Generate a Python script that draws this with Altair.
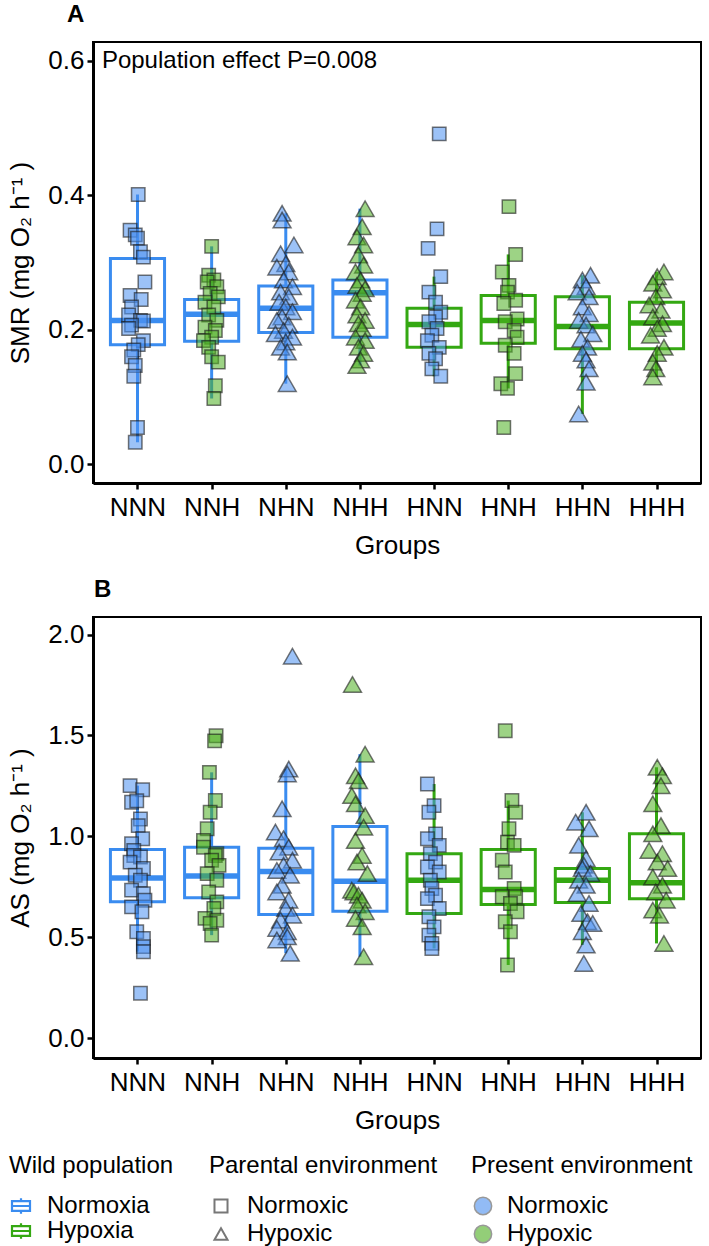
import altair as alt
import pandas as pd

FONT = "Liberation Sans"

groups = ["NNN", "NNH", "NHN", "NHH", "HNN", "HNH", "HHN", "HHH"]

# ---------------- Panel A: standard metabolic rate (mg O2 h-1) ----------------
# one value per fish, plus its horizontal jitter (fraction of the group spacing)
smr_nnn = [0.401, 0.348, 0.341, 0.336, 0.316, 0.308, 0.271, 0.251, 0.245, 0.234, 0.222, 0.214,
           0.213, 0.207, 0.202, 0.184, 0.178, 0.170, 0.160, 0.147, 0.131, 0.055, 0.033]
smr_nnn_jit = [0.01, -0.10, -0.03, 0.00, 0.04, 0.08, 0.10, -0.10, 0.05, -0.08, -0.12, 0.04,
               0.08, -0.08, -0.12, 0.08, 0.01, -0.05, -0.08, -0.03, -0.05, 0.00, -0.03]
smr_nnh = [0.324, 0.281, 0.274, 0.271, 0.264, 0.254, 0.249, 0.241, 0.234, 0.222, 0.214, 0.204,
           0.199, 0.189, 0.184, 0.174, 0.160, 0.152, 0.117, 0.098]
smr_nnh_jit = [0.00, -0.04, 0.03, -0.06, 0.07, -0.02, 0.09, -0.09, 0.03, -0.04, 0.07, -0.09,
               0.05, 0.00, -0.11, -0.04, 0.00, 0.09, 0.05, 0.03]
smr_nhn = [0.373, 0.363, 0.326, 0.313, 0.298, 0.293, 0.286, 0.274, 0.264, 0.256, 0.249, 0.241,
           0.234, 0.227, 0.219, 0.214, 0.207, 0.199, 0.194, 0.189, 0.182, 0.174, 0.167, 0.120]
smr_nhn_jit = [-0.05, -0.05, 0.11, -0.07, 0.00, -0.12, 0.04, -0.03, 0.09, -0.07, 0.04, -0.09,
               0.00, 0.09, -0.05, -0.12, 0.04, -0.03, -0.14, 0.09, 0.00, -0.07, 0.02, 0.02]
smr_nhh = [0.380, 0.353, 0.338, 0.326, 0.311, 0.296, 0.286, 0.274, 0.266, 0.261, 0.254, 0.244,
           0.234, 0.222, 0.214, 0.209, 0.202, 0.189, 0.184, 0.174, 0.165, 0.155, 0.147]
smr_nhh_jit = [0.07, 0.03, -0.04, 0.05, -0.02, 0.05, -0.06, 0.01, -0.04, 0.07, 0.03, -0.06,
               0.01, -0.04, 0.07, -0.02, 0.03, -0.06, 0.07, -0.02, 0.05, 0.01, -0.04]
smr_hnn = [0.491, 0.350, 0.321, 0.279, 0.256, 0.241, 0.226, 0.219, 0.212, 0.202, 0.192, 0.184,
           0.174, 0.165, 0.157, 0.142, 0.131]
smr_hnn_jit = [0.07, 0.04, -0.08, 0.09, -0.07, 0.02, 0.09, 0.02, -0.07, 0.04, -0.03, -0.09,
               0.07, -0.07, 0.02, -0.03, 0.09]
smr_hnh = [0.383, 0.312, 0.286, 0.266, 0.256, 0.244, 0.239, 0.216, 0.212, 0.199, 0.189, 0.177,
           0.165, 0.135, 0.120, 0.113, 0.055]
smr_hnh_jit = [0.01, 0.10, -0.08, 0.01, -0.01, 0.10, -0.06, 0.12, -0.04, 0.08, 0.12, -0.04,
               0.08, 0.10, -0.10, -0.01, -0.06]
smr_hhn = [0.281, 0.274, 0.264, 0.256, 0.249, 0.234, 0.224, 0.214, 0.207, 0.194, 0.186, 0.174,
           0.165, 0.155, 0.142, 0.122, 0.075]
smr_hhn_jit = [0.11, 0.00, 0.05, -0.07, 0.09, 0.00, 0.09, -0.05, 0.05, 0.14, -0.02, 0.07,
               0.00, 0.05, 0.09, 0.05, -0.05]
smr_hhh = [0.286, 0.279, 0.269, 0.259, 0.249, 0.237, 0.229, 0.219, 0.209, 0.202, 0.192, 0.174,
           0.165, 0.152, 0.142, 0.130]
smr_hhh_jit = [0.10, 0.01, -0.05, 0.08, -0.01, -0.10, 0.06, -0.05, 0.08, 0.01, -0.08, 0.10,
               0.01, -0.05, -0.01, -0.05]

# box statistics per group (NNN ... HHH)
smr_q1 = [0.178, 0.183, 0.196, 0.189, 0.174, 0.180, 0.172, 0.172]
smr_med = [0.214, 0.223, 0.232, 0.255, 0.208, 0.214, 0.205, 0.210]
smr_q3 = [0.306, 0.245, 0.265, 0.274, 0.232, 0.251, 0.249, 0.241]
smr_wlo = [0.033, 0.098, 0.120, 0.147, 0.131, 0.113, 0.075, 0.130]
smr_whi = [0.401, 0.324, 0.373, 0.380, 0.279, 0.312, 0.281, 0.286]

# ---------------- Panel B: aerobic scope (mg O2 h-1) ----------------
as_nnn = [1.251, 1.231, 1.169, 1.176, 1.086, 1.053, 0.988, 0.963, 0.930, 0.905, 0.897, 0.872,
          0.840, 0.807, 0.782, 0.733, 0.716, 0.683, 0.650, 0.626, 0.527, 0.494, 0.453, 0.428, 0.222]
as_nnn_jit = [-0.10, 0.07, -0.08, -0.01, 0.04, 0.01, 0.07, -0.08, -0.05, -0.05, 0.04, -0.10,
              0.08, -0.03, 0.04, -0.08, 0.08, 0.10, -0.08, 0.06, -0.01, 0.08, 0.08, 0.08, 0.04]
as_nnh = [1.498, 1.473, 1.317, 1.177, 1.119, 1.037, 0.979, 0.946, 0.914, 0.905, 0.881, 0.856,
          0.815, 0.782, 0.724, 0.675, 0.642, 0.593, 0.584, 0.568, 0.510]
as_nnh_jit = [0.06, 0.04, -0.03, 0.05, -0.02, -0.06, -0.11, -0.11, 0.07, 0.05, 0.00, 0.10,
              -0.06, 0.07, -0.04, 0.07, 0.03, -0.09, 0.07, -0.02, 0.00]
as_nhn = [1.893, 1.333, 1.309, 1.136, 1.021, 0.988, 0.946, 0.922, 0.881, 0.856, 0.831, 0.807,
          0.757, 0.724, 0.683, 0.642, 0.609, 0.584, 0.543, 0.527, 0.502, 0.486, 0.420]
as_nhn_jit = [0.09, 0.04, 0.02, -0.05, -0.14, -0.03, 0.04, -0.09, 0.09, -0.03, -0.12, 0.06,
              -0.05, -0.12, 0.04, 0.00, 0.09, -0.07, -0.12, 0.02, 0.02, -0.12, 0.06]
as_nhh = [1.753, 1.407, 1.300, 1.275, 1.202, 1.161, 1.103, 1.045, 0.979, 0.905, 0.872, 0.815,
          0.733, 0.724, 0.708, 0.683, 0.659, 0.626, 0.593, 0.551, 0.403]
as_nhh_jit = [-0.10, 0.07, -0.06, -0.02, -0.11, -0.06, 0.07, 0.05, -0.06, 0.03, -0.04, 0.10,
              -0.11, -0.08, -0.02, 0.03, -0.04, 0.07, -0.06, 0.03, 0.05]
as_hnn = [1.259, 1.152, 1.119, 1.012, 0.988, 0.955, 0.914, 0.872, 0.848, 0.823, 0.782, 0.741,
          0.708, 0.691, 0.642, 0.601, 0.551, 0.510, 0.469, 0.444]
as_hnn_jit = [-0.09, 0.00, -0.07, 0.02, -0.09, 0.07, -0.05, 0.02, -0.09, 0.07, -0.05, -0.03,
              0.02, -0.09, 0.07, -0.07, 0.00, -0.07, -0.03, -0.03]
as_hnh = [1.523, 1.177, 1.119, 1.037, 0.971, 0.955, 0.881, 0.823, 0.741, 0.700, 0.700, 0.667,
          0.626, 0.576, 0.527, 0.362]
as_hnh_jit = [-0.04, 0.05, 0.10, 0.01, -0.01, 0.08, -0.08, -0.04, 0.08, -0.08, 0.10, 0.03,
              0.12, -0.04, 0.03, -0.01]
as_hhn = [1.119, 1.070, 1.037, 0.955, 0.889, 0.856, 0.840, 0.815, 0.782, 0.757, 0.716, 0.667,
          0.617, 0.576, 0.568, 0.527, 0.461, 0.370]
as_hhn_jit = [0.05, -0.09, 0.09, -0.05, 0.05, 0.02, 0.00, 0.11, -0.05, 0.05, -0.07, 0.09,
              -0.02, 0.07, 0.14, 0.00, 0.05, 0.02]
as_hhh = [1.342, 1.300, 1.251, 1.161, 1.053, 1.012, 0.930, 0.914, 0.872, 0.840, 0.798, 0.757,
          0.724, 0.683, 0.634, 0.609, 0.469]
as_hhh_jit = [0.01, 0.08, 0.06, -0.05, 0.06, -0.05, -0.10, 0.08, 0.01, 0.15, -0.05, 0.08,
              -0.01, 0.13, -0.05, 0.04, 0.10]

as_q1 = [0.675, 0.695, 0.612, 0.629, 0.617, 0.662, 0.672, 0.691]
as_med = [0.793, 0.803, 0.826, 0.777, 0.782, 0.736, 0.782, 0.770]
as_q3 = [0.935, 0.946, 0.941, 1.049, 0.914, 0.935, 0.840, 1.012]
as_wlo = [0.428, 0.510, 0.420, 0.403, 0.444, 0.362, 0.461, 0.469]
as_whi = [1.251, 1.317, 1.333, 1.407, 1.259, 1.177, 1.119, 1.342]

note_text = "Population effect P=0.008"
note_x, note_y = 0.52, 0.60

# ---------------- styling ----------------
BOX_BLUE, BOX_GREEN = "#3a8cf0", "#34a812"
PT_BLUE, PT_GREEN = "#4a8ff0", "#4caf20"
BOX_HALF = 0.365


def condition(letter, yes, no):
    return yes if letter == "N" else no


def points_frame(values, jitters):
    rows = []
    for i, g in enumerate(groups):
        for v, j in zip(values[i], jitters[i]):
            rows.append({
                "group": g, "idx": i + 1, "jit": j, "value": v,
                "wild": condition(g[0], "Normoxia", "Hypoxia"),
                # parental levels kept lower-case so their legend stays separate
                "parental": condition(g[1], "normoxic", "hypoxic"),
                "present": condition(g[2], "Normoxic", "Hypoxic"),
                "glyph": condition(g[1], "sq", "tri"),
            })
    return pd.DataFrame(rows)


def box_frame(q1, med, q3, wlo, whi):
    return pd.DataFrame({
        "group": groups, "idx": list(range(1, len(groups) + 1)),
        "wild": [condition(g[0], "Normoxia", "Hypoxia") for g in groups],
        "q1": q1, "med": med, "q3": q3, "wlo": wlo, "whi": whi,
    })


smr_points = points_frame(
    [smr_nnn, smr_nnh, smr_nhn, smr_nhh, smr_hnn, smr_hnh, smr_hhn, smr_hhh],
    [smr_nnn_jit, smr_nnh_jit, smr_nhn_jit, smr_nhh_jit,
     smr_hnn_jit, smr_hnh_jit, smr_hhn_jit, smr_hhh_jit])
as_points = points_frame(
    [as_nnn, as_nnh, as_nhn, as_nhh, as_hnn, as_hnh, as_hhn, as_hhh],
    [as_nnn_jit, as_nnh_jit, as_nhn_jit, as_nhh_jit,
     as_hnn_jit, as_hnh_jit, as_hhn_jit, as_hhh_jit])
smr_box = box_frame(smr_q1, smr_med, smr_q3, smr_wlo, smr_whi)
as_box = box_frame(as_q1, as_med, as_q3, as_wlo, as_whi)

x_scale = alt.Scale(domain=[0.4, 8.6], nice=False, zero=False)
label_expr = "[" + ",".join(f"'{g}'" for g in groups) + "][datum.value - 1]"
x_axis = alt.Axis(values=list(range(1, 9)), labelExpr=label_expr, title="Groups")

# box-and-whisker glyph for the wild-population legend
BOX_GLYPH = "M-1,-0.55H1V0.55H-1Z M-1,0H1 M0,-0.85V-0.55 M0,0.55V0.85"

LEG_COMMON = dict(orient="none", titleFont=FONT, titleFontSize=24, titleFontWeight="normal",
                  titleColor="black", titleLimit=400, labelFont=FONT, labelFontSize=24,
                  labelColor="black", labelLimit=300, titlePadding=16)
LEG_Y = 1112

wild_scale = alt.Scale(domain=["Normoxia", "Hypoxia"], range=[BOX_BLUE, BOX_GREEN])
wild_legend = alt.Legend(title="Wild population", legendX=-84, legendY=LEG_Y,
                         symbolType=BOX_GLYPH, symbolSize=324, symbolStrokeWidth=2.2,
                         symbolFillColor="white", labelOffset=14, rowPadding=-1, **LEG_COMMON)
shape_scale = alt.Scale(domain=["normoxic", "hypoxic"], range=["square", "triangle-up"])
shape_legend = alt.Legend(title="Parental environment", legendX=116, legendY=LEG_Y,
                          labelExpr="upper(substring(datum.label, 0, 1)) + substring(datum.label, 1)",
                          symbolSize=170, symbolStrokeColor="#777777", symbolStrokeWidth=2,
                          symbolFillColor="white", labelOffset=14, rowPadding=4, **LEG_COMMON)
size_scale = alt.Scale(domain=["sq", "tri"], range=[180, 320])
fill_scale = alt.Scale(domain=["Normoxic", "Hypoxic"], range=[PT_BLUE, PT_GREEN])
fill_legend = alt.Legend(title="Present environment", legendX=378, legendY=LEG_Y,
                         symbolType="circle", symbolSize=300, symbolStrokeColor="#555555",
                         symbolStrokeWidth=1.5, symbolOpacity=0.6, labelOffset=12,
                         rowPadding=4, **LEG_COMMON)


def panel(points, box, ydom, yvals, ytitle, letter, letter_dx, with_note=False):
    y_scale = alt.Scale(domain=ydom, nice=False, zero=False)
    y_axis = alt.Axis(values=yvals, format=".1f", title=ytitle)

    def xq(field):
        return alt.X(field, type="quantitative", scale=x_scale, axis=x_axis)

    def yq(field):
        return alt.Y(field, type="quantitative", scale=y_scale, axis=y_axis)

    stroke = alt.Stroke("wild:N", scale=wild_scale, legend=wild_legend)
    base = alt.Chart(box).transform_calculate(
        x0=f"datum.idx - {BOX_HALF}", x1=f"datum.idx + {BOX_HALF}")

    # outlined box (drawn first so it also defines the wild-population legend symbol)
    body = base.mark_rect(filled=False, strokeWidth=3).encode(
        x=xq("x0"), x2="x1:Q", y=yq("q1"), y2="q3:Q", stroke=stroke)
    upper = base.mark_rule(strokeWidth=3).encode(x=xq("idx"), y=yq("q3"), y2="whi:Q", stroke=stroke)
    lower = base.mark_rule(strokeWidth=3).encode(x=xq("idx"), y=yq("wlo"), y2="q1:Q", stroke=stroke)
    median = base.mark_rule(strokeWidth=5.5).encode(x=xq("x0"), x2="x1:Q", y=yq("med"), stroke=stroke)

    dots = alt.Chart(points).transform_calculate(xpos="datum.idx + datum.jit").mark_point(
        filled=True, fillOpacity=0.55, stroke="#1a1a1a", strokeOpacity=0.6, strokeWidth=1.5
    ).encode(
        x=xq("xpos"), y=yq("value"),
        shape=alt.Shape("parental:N", scale=shape_scale, legend=shape_legend),
        size=alt.Size("glyph:N", scale=size_scale, legend=None),
        fill=alt.Fill("present:N", scale=fill_scale, legend=fill_legend),
    )

    layers = [body, upper, lower, median, dots]
    if with_note:
        note = alt.Chart(pd.DataFrame({"nx": [note_x], "ny": [note_y], "label": [note_text]})).mark_text(
            align="left", baseline="middle", font=FONT, fontSize=24, color="black"
        ).encode(x=xq("nx"), y=yq("ny"), text="label:N")
        layers.append(note)

    return alt.layer(*layers).properties(
        width=608, height=441,
        title=alt.TitleParams(letter, anchor="start", frame="group", dx=letter_dx, offset=-4,
                              font=FONT, fontSize=24, fontWeight="bold", color="black",
                              baseline="alphabetic"),
    )


panel_a = panel(smr_points, smr_box, [-0.0275, 0.6275], [0.0, 0.2, 0.4, 0.6],
                "SMR (mg O\u2082 h\u207b\u00b9 )", "A", -26, with_note=True)
panel_b = panel(as_points, as_box, [-0.099, 2.087], [0.0, 0.5, 1.0, 1.5, 2.0],
                "AS (mg O\u2082 h\u207b\u00b9 )", "B", 1)

chart = alt.vconcat(panel_a, panel_b, spacing=134, bounds="flush").resolve_scale(
    y="independent"
).properties(
    padding={"left": 6, "top": 2, "right": 2, "bottom": 2},
    background="white",
).configure_view(
    stroke="black", strokeWidth=2
).configure_axis(
    grid=False, domainColor="black", domainWidth=3, tickColor="black", tickWidth=2.5,
    tickSize=6, labelFont=FONT, labelFontSize=26, labelColor="black", labelPadding=3,
    titleFont=FONT, titleFontSize=26, titleFontWeight="normal", titleColor="black",
).configure_axisY(
    titlePadding=14
).configure_axisX(
    labelPadding=5, titlePadding=12
)

chart.save("out.html", embed_options={"renderer": "svg", "actions": False})
